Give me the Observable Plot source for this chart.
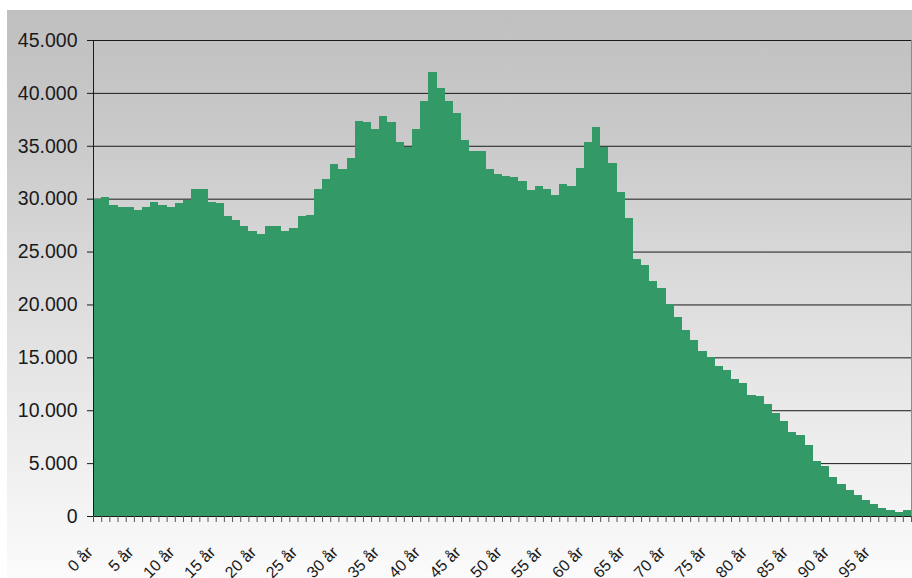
<!DOCTYPE html>
<html><head><meta charset="utf-8">
<script src="https://cdn.jsdelivr.net/npm/d3@7"></script>
<script src="https://cdn.jsdelivr.net/npm/@observablehq/plot@0.6"></script>
<style>
html,body{margin:0;padding:0;background:#fff;}
#wrap{position:relative;width:912px;height:578px;overflow:hidden;}
#bg{position:absolute;left:7px;top:10px;right:0;bottom:0;background:linear-gradient(#c0c0c0 0%,#c8c8c8 20%,#e6e6e6 65%,#fbfbfb 100%);}
#chart{position:absolute;left:0;top:0;}
</style></head><body>
<div id="wrap"><div id="bg"></div><div id="chart"></div></div>
<script>
// Population by single year of age (0 år ... 99 år)
const population = [
  29950, 30150, 29400, 29200, 29200, 28900, 29200, 29700, 29400, 29200,
  29600, 29900, 30900, 30900, 29700, 29600, 28350, 27980, 27400, 26900,
  26650, 27400, 27400, 26900, 27200, 28350, 28450, 30900, 31850, 33270,
  32800, 33840, 37330, 37240, 36580, 37800, 37240, 35350, 34880, 36580,
  39220, 41970, 40450, 39220, 38090, 35540, 34500, 34500, 32800, 32330,
  32140, 32040, 31660, 30810, 31190, 30900, 30340, 31380, 31190, 32900,
  35350, 36770, 34880, 33360, 30620, 28170, 24290, 23720, 22200, 21550,
  20040, 18810, 17580, 16640, 15600, 15030, 14180, 13800, 12950, 12570,
  11440, 11340, 10590, 9740, 8980, 7940, 7660, 6710, 5200, 4730,
  3690, 3020, 2460, 1980, 1510, 1130, 760, 570, 380, 570
];
const yTicks = [0, 5000, 10000, 15000, 20000, 25000, 30000, 35000, 40000, 45000];
const labelAges = [0, 5, 10, 15, 20, 25, 30, 35, 40, 45, 50, 55, 60, 65, 70, 75, 80, 85, 90, 95];
const xLabels = ["0 år","5 år","10 år","15 år","20 år","25 år","30 år","35 år","40 år","45 år",
                 "50 år","55 år","60 år","65 år","70 år","75 år","80 år","85 år","90 år","95 år"];

const data = population.map((v, i) => ({age: i, value: v}));
const boundaries = d3.range(0, population.length + 1);
const labels = labelAges.map((a, i) => ({age: a, label: xLabels[i]}));
const fmt = d => d3.format(",")(d).replace(/,/g, ".");

const plot = Plot.plot({
  width: 912, height: 578,
  marginLeft: 93, marginRight: 1, marginTop: 40, marginBottom: 62,
  style: {background: "transparent", fontFamily: "'Liberation Sans', Arial, sans-serif", overflow: "visible", color: "#1a1a1a"},
  x: {domain: [0, population.length], axis: null},
  y: {domain: [0, 45000], axis: null},
  marks: [
    Plot.gridY(yTicks, {stroke: "#1a1a1a", strokeOpacity: 1, strokeWidth: 1}),
    Plot.rectY(data, {x1: "age", x2: d => d.age + 1, y: "value", fill: "#339966", inset: 0, shapeRendering: "crispEdges"}),
    Plot.ruleX([population.length], {stroke: "#8c8c8c"}),
    Plot.ruleX([0], {stroke: "#1a1a1a"}),
    Plot.ruleY([0], {stroke: "#1a1a1a"}),
    Plot.axisY({ticks: yTicks, tickFormat: fmt, tickSize: 6, tickPadding: 10, fontSize: 19.5, label: null}),
    Plot.axisX({ticks: boundaries, tickFormat: () => "", tickSize: 6, label: null, stroke: "#555"}),
    Plot.text(labels, {x: d => d.age + 0.5, y: () => 0, text: "label", rotate: -45, textAnchor: "end",
                       lineAnchor: "middle", dx: -7.5, dy: 33, fontSize: 16, fill: "#1a1a1a"})
  ]
});
document.getElementById("chart").appendChild(plot);
</script>
</body></html>
